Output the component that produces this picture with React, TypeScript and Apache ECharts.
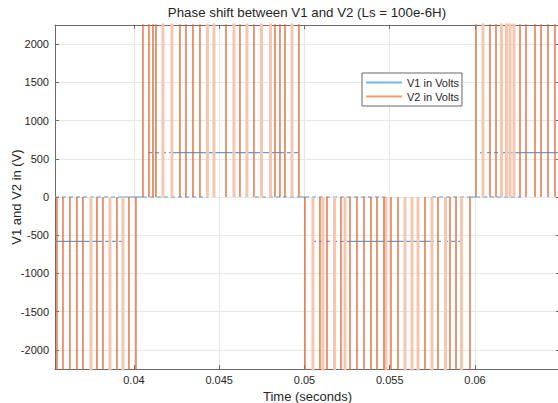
import { useEffect, useRef } from 'react';
import * as echarts from 'echarts';

const titleText = 'Phase shift between V1 and V2 (Ls = 100e-6H)';
const xAxisName = 'Time (seconds)';
const yAxisName = 'V1 and V2 in (V)';
const v1Name = 'V1 in Volts';
const v2Name = 'V2 in Volts';

const xTicks = [0.04, 0.045, 0.05, 0.055, 0.06];
const yTicks = [-2000, -1500, -1000, -500, 0, 500, 1000, 1500, 2000];
const xExtent = [0.03537, 0.064985];
const yExtent = [-2250, 2250];

// sign of V2 spikes in each half cycle
const halfCycleBounds = [0.0405, 0.05, 0.06];
const halfCycleSigns = [-1, 1, -1, 1];
const v2SpikePeak = 3000;

// V1 levels: [tStart, tEnd, volts]
const v1SolidSegments: number[][] = [
  [0.03537, 0.037889, -580],
  [0.039296, 0.040528, 0],
  [0.042229, 0.048563, 580],
  [0.049677, 0.050029, 0],
  [0.052669, 0.057361, -580],
  [0.059707, 0.060059, 0],
  [0.061935, 0.064985, 580],
];
const v1DashedSegments: number[][] = [
  [0.037889, 0.039296, -580],
  [0.03537, 0.039296, 0],
  [0.040821, 0.042229, 580],
  [0.048563, 0.049736, 580],
  [0.040528, 0.04434, 0],
  [0.047097, 0.049677, 0],
  [0.05044, 0.052669, -580],
  [0.057361, 0.059413, -580],
  [0.050029, 0.054897, 0],
  [0.057478, 0.059707, 0],
  [0.060293, 0.061935, 580],
  [0.060059, 0.062698, 0],
];

// V2 switching spikes (sharp edges)
const v2EdgeTimes = [
  0.035484, 0.035836, 0.036246, 0.036657, 0.037009, 0.03783, 0.038182, 0.039003, 0.039707, 0.040117,
  0.040528, 0.04088, 0.041114, 0.04129, 0.042698, 0.04305, 0.04346, 0.043871,
  0.045396, 0.046217, 0.047038, 0.04827, 0.048563, 0.048856, 0.049677,
  0.050029, 0.050909, 0.05132, 0.052141, 0.052669, 0.053079, 0.05349, 0.0539, 0.054252, 0.054663,
  0.055073, 0.055484, 0.057067, 0.05783, 0.058534, 0.058886, 0.059707,
  0.060059, 0.06088, 0.061232, 0.062639, 0.062991, 0.063519, 0.063871, 0.064282, 0.064692,
];
// V2 narrow double pulses
const v2NarrowPulseTimes = [
  0.037478, 0.038592, 0.039355,
  0.041701, 0.042229, 0.044311, 0.044692,
  0.045865, 0.046628, 0.047478, 0.048006, 0.049267,
  0.050499, 0.051085, 0.05176, 0.052375,
  0.05478, 0.055894, 0.056305, 0.056657, 0.057478, 0.05827, 0.059208,
  0.060469, 0.061554, 0.061848, 0.062053, 0.062287,
];

const FONT = 'Liberation Sans, Arial, Helvetica, sans-serif';
const TEXT = '#262626';
const AXIS = '#6b6b6b';
const GRID = '#e6e6e6';
const BLUE = '#5b9fd6';
const ORANGE = '#e0622b';
const ORANGE_LIGHT = '#f6c6ae';

function signAt(t: number): number {
  let i = 0;
  while (i < halfCycleBounds.length && t >= halfCycleBounds[i]) i++;
  return halfCycleSigns[i];
}

function segmentData(segs: number[][]) {
  const out: (number | null)[][] = [];
  segs.forEach(([a, b, v]) => {
    out.push([a, v], [b, v], [b, null]);
  });
  return out;
}

function spikeData(times: number[]) {
  const out: (number | null)[][] = [];
  times.forEach((t) => {
    out.push([t, 0], [t, signAt(t) * v2SpikePeak], [t, null]);
  });
  return out;
}

export default function App() {
  const ref = useRef<HTMLDivElement>(null);
  useEffect(() => {
    if (!ref.current) return;
    const chart = echarts.init(ref.current, null, { renderer: 'svg' });
    const axisLineStyle = { color: AXIS, width: 1 };
    chart.setOption({
      animation: false,
      backgroundColor: '#ffffff',
      textStyle: { fontFamily: FONT },
      title: {
        text: titleText,
        left: 307,
        top: 6,
        padding: 0,
        textAlign: 'center',
        textStyle: { fontFamily: FONT, fontSize: 13.3, fontWeight: 'normal', color: TEXT },
      },
      graphic: [
        {
          type: 'text',
          x: 16,
          y: 197,
          rotation: Math.PI / 2,
          silent: true,
          style: {
            text: yAxisName,
            fontFamily: FONT,
            fontSize: 13,
            fill: TEXT,
            textAlign: 'center',
            textVerticalAlign: 'middle',
          },
        },
      ],
      legend: {
        orient: 'vertical',
        left: 362,
        top: 73,
        padding: [3, 3, 3, 4],
        itemGap: 1,
        itemWidth: 36,
        itemHeight: 2,
        icon: 'rect',
        backgroundColor: '#ffffff',
        borderColor: '#666666',
        borderWidth: 1,
        borderRadius: 0,
        textStyle: { fontFamily: FONT, fontSize: 11, color: TEXT, lineHeight: 13 },
        data: [
          { name: v1Name, itemStyle: { color: '#7ab4e2' } },
          { name: v2Name, itemStyle: { color: '#f29a70' } },
        ],
      },
      grid: { left: 55, top: 25, right: -2, bottom: 34, containLabel: false, outerBoundsMode: 'none' },
      xAxis: [
        {
          type: 'value',
          position: 'bottom',
          min: xExtent[0],
          max: xExtent[1],
          name: xAxisName,
          nameLocation: 'middle',
          nameGap: 17,
          nameTextStyle: { fontFamily: FONT, fontSize: 13, color: TEXT },
          axisLine: { show: true, onZero: false, lineStyle: axisLineStyle },
          axisTick: { show: true, inside: true, length: 4, lineStyle: axisLineStyle, customValues: xTicks },
          axisLabel: {
            show: true,
            margin: 5,
            fontFamily: FONT,
            fontSize: 11,
            color: TEXT,
            customValues: xTicks,
            formatter: (v: number) => String(Number(v.toFixed(4))),
          },
          splitLine: { show: true, lineStyle: { color: GRID, width: 1 } },
        },
        {
          type: 'value',
          position: 'top',
          min: xExtent[0],
          max: xExtent[1],
          axisLine: { show: true, onZero: false, lineStyle: axisLineStyle },
          axisTick: { show: true, inside: true, length: 4, lineStyle: axisLineStyle, customValues: xTicks },
          axisLabel: { show: false },
          splitLine: { show: false },
        },
      ],
      yAxis: [
        {
          type: 'value',
          position: 'left',
          min: yExtent[0],
          max: yExtent[1],
          axisLine: { show: true, onZero: false, lineStyle: axisLineStyle },
          axisTick: { show: true, inside: true, length: 4, lineStyle: axisLineStyle, customValues: yTicks },
          axisLabel: {
            show: true,
            margin: 6,
            fontFamily: FONT,
            fontSize: 11,
            color: TEXT,
            customValues: yTicks,
            formatter: (v: number) => String(Math.round(v)),
          },
          splitLine: { show: true, lineStyle: { color: GRID, width: 1 } },
        },
        {
          type: 'value',
          position: 'right',
          min: yExtent[0],
          max: yExtent[1],
          axisLine: { show: true, onZero: false, lineStyle: axisLineStyle },
          axisTick: { show: true, inside: true, length: 4, lineStyle: axisLineStyle, customValues: yTicks },
          axisLabel: { show: false },
          splitLine: { show: false },
        },
      ],
      series: [
        {
          type: 'line',
          name: v1Name,
          data: segmentData(v1SolidSegments),
          showSymbol: false,
          connectNulls: false,
          silent: true,
          z: 2,
          lineStyle: { color: BLUE, width: 1.2 },
          itemStyle: { color: BLUE },
        },
        {
          type: 'line',
          name: v1Name,
          data: segmentData(v1DashedSegments),
          showSymbol: false,
          connectNulls: false,
          silent: true,
          z: 2,
          lineStyle: { color: BLUE, width: 1.2, type: [4, 3] },
          itemStyle: { color: BLUE },
        },
        {
          type: 'line',
          name: v2Name,
          data: spikeData(v2NarrowPulseTimes),
          showSymbol: false,
          connectNulls: false,
          silent: true,
          z: 3,
          lineStyle: { color: ORANGE_LIGHT, width: 3 },
          itemStyle: { color: ORANGE_LIGHT },
        },
        {
          type: 'line',
          name: v2Name,
          data: spikeData(v2EdgeTimes),
          showSymbol: false,
          connectNulls: false,
          silent: true,
          z: 4,
          lineStyle: { color: ORANGE, width: 1.3 },
          itemStyle: { color: ORANGE },
        },
      ],
    });
    return () => chart.dispose();
  }, []);
  return (
    <div
      ref={ref}
      style={{ position: 'fixed', left: 0, top: 0, width: 558, height: 403, background: '#fff' }}
    />
  );
}
